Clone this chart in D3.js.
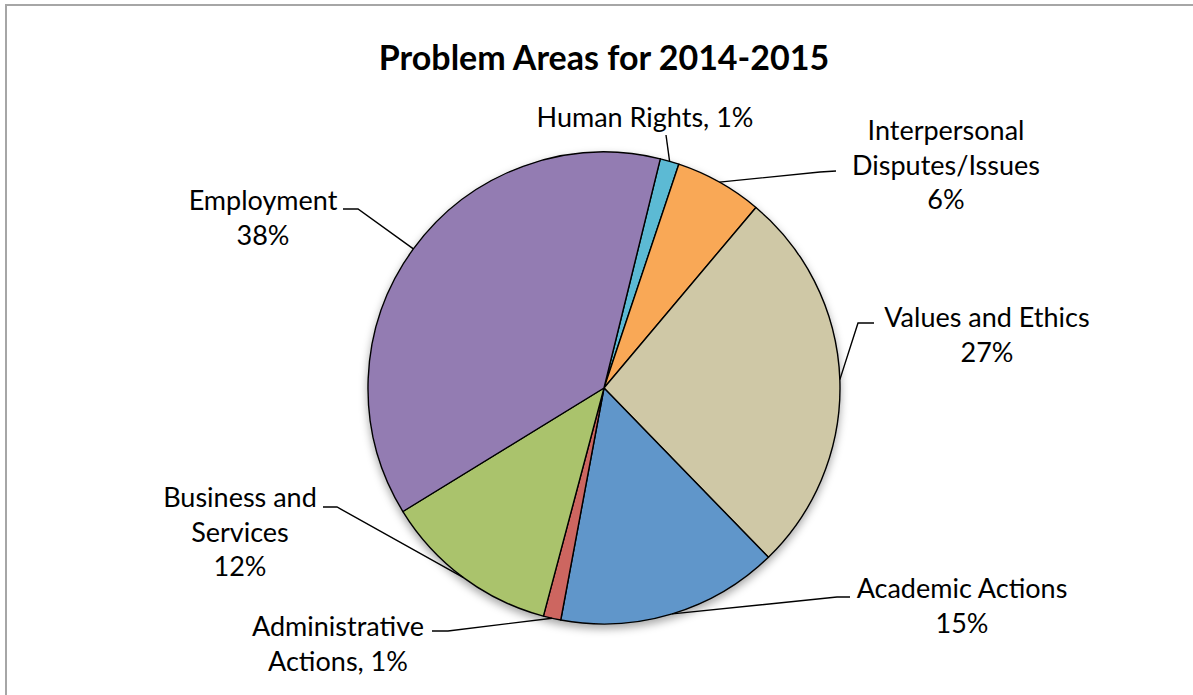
<!DOCTYPE html>
<html>
<head>
<meta charset="utf-8">
<script src="https://cdn.jsdelivr.net/npm/d3@7"></script>
<style>
  body { margin: 0; background: #fff; }
  text { font-family: Lato, "Open Sans", sans-serif; fill: #000; }
</style>
</head>
<body>
<div id="chart"></div>
<script>
// Problem areas, share of cases in percent
const categories = ["Human Rights", "Interpersonal Disputes/Issues", "Values and Ethics",
  "Academic Actions", "Administrative Actions", "Business and Services", "Employment"];
const shares = [1.3, 6.0, 26.6, 15.2, 1.2, 12.1, 37.6];
const colors = ["#5bbad4", "#f9a857", "#cfc8a6", "#6196ca", "#cd6660", "#aac36c", "#937cb2"];

// Label lines, {p} gets the percentage
const labelLines = [
  ["Human Rights, {p}"],
  ["Interpersonal", "Disputes/Issues", "{p}"],
  ["Values and Ethics", "{p}"],
  ["Academic Actions", "{p}"],
  ["Administrative", "Actions, {p}"],
  ["Business and", "Services", "{p}"],
  ["Employment", "{p}"]
];

// Label placement (centre x, first baseline) and leader points from label side
const labelLayout = [
  { x: 645, y: 127, lead: [[666, 135]] },
  { x: 946, y: 140, lead: [[836, 171], [820, 172]] },
  { x: 987, y: 327, lead: [[874, 323], [858, 323]] },
  { x: 962, y: 598, lead: [[850, 597], [837, 597]] },
  { x: 338, y: 636, lead: [[432, 631], [448, 631]] },
  { x: 240, y: 507, lead: [[323, 507], [337, 507]] },
  { x: 263, y: 210, lead: [[343, 209], [358, 209]] }
];

const width = 1193, height = 695;
const cx = 604, cy = 388, radius = 236;
const startDeg = 13.8;
const lineHeight = 34.5;

const svg = d3.select("#chart").append("svg")
  .attr("width", width)
  .attr("height", height);

// chart frame (runs off right and bottom edges)
svg.append("rect")
  .attr("x", 6).attr("y", 5)
  .attr("width", width + 20).attr("height", height + 20)
  .attr("fill", "none")
  .attr("stroke", "#a6a6a6")
  .attr("stroke-width", 2);

svg.append("text")
  .attr("x", cx).attr("y", 70)
  .attr("text-anchor", "middle")
  .style("font-size", "34px")
  .style("font-weight", "bold")
  .text("Problem Areas for 2014-2015");

const defs = svg.append("defs");
const shadow = defs.append("filter").attr("id", "shadow")
  .attr("x", "-10%").attr("y", "-10%").attr("width", "120%").attr("height", "125%");
shadow.append("feDropShadow")
  .attr("dx", 0).attr("dy", 4).attr("stdDeviation", 4)
  .attr("flood-color", "#000").attr("flood-opacity", 0.35);

const total = d3.sum(shares);
const pct = d3.format(".0%");

const pie = d3.pie()
  .sort(null)
  .startAngle(startDeg * Math.PI / 180)
  .endAngle(startDeg * Math.PI / 180 + 2 * Math.PI);

const arcs = pie(shares);
const arc = d3.arc().innerRadius(0).outerRadius(radius);

const g = svg.append("g").attr("transform", `translate(${cx},${cy})`);

g.append("g")
  .attr("filter", "url(#shadow)")
  .selectAll("path")
  .data(arcs)
  .enter()
  .append("path")
  .attr("d", arc)
  .attr("fill", (d, i) => colors[i])
  .attr("stroke", "#000")
  .attr("stroke-width", 1.4)
  .attr("stroke-linejoin", "round");

// leader lines: label side points then the slice edge at mid angle
arcs.forEach((d, i) => {
  const mid = (d.startAngle + d.endAngle) / 2;
  const edge = [cx + radius * Math.sin(mid), cy - radius * Math.cos(mid)];
  const pts = labelLayout[i].lead.concat([edge]);
  svg.append("path")
    .attr("d", d3.line()(pts))
    .attr("fill", "none")
    .attr("stroke", "#000")
    .attr("stroke-width", 1.4);
});

// labels
arcs.forEach((d, i) => {
  const p = pct(shares[i] / total);
  const t = svg.append("text")
    .attr("text-anchor", "middle")
    .style("font-size", "27px");
  labelLines[i].forEach((line, j) => {
    t.append("tspan")
      .attr("x", labelLayout[i].x)
      .attr("y", labelLayout[i].y + j * lineHeight)
      .text(line.replace("{p}", p));
  });
});
</script>
</body>
</html>
